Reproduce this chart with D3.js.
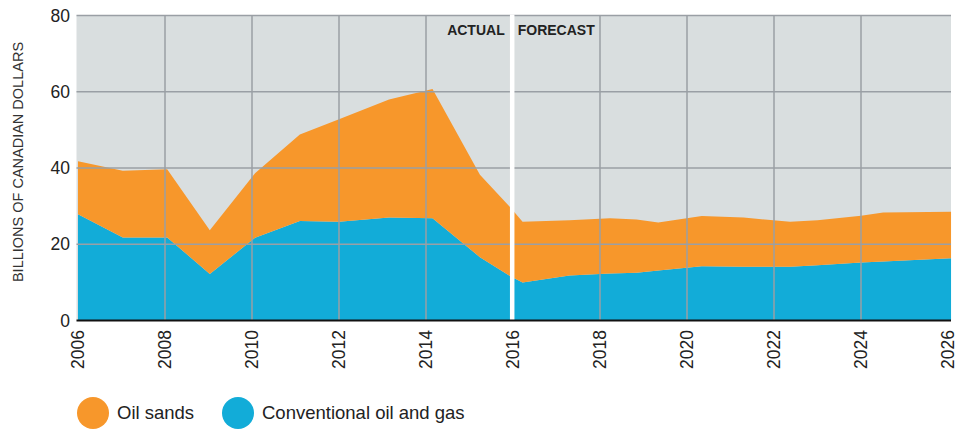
<!DOCTYPE html>
<html>
<head>
<meta charset="utf-8">
<script src="https://cdn.jsdelivr.net/npm/d3@7"></script>
<style>
  body { margin: 0; background: #fff; }
  text { font-family: "Liberation Sans", Arial, Helvetica, sans-serif; }
</style>
</head>
<body>
<div id="chart"></div>
<script>
// values (billions of CAD), x as fractional years
var actualYears = [2006, 2007.03, 2008.05, 2009.03, 2010.07, 2011.1, 2012, 2013.15, 2014.15, 2015.24, 2015.93];
var actualConventional = [27.9, 21.8, 21.8, 12.2, 21.7, 26.1, 25.9, 27.0, 26.8, 16.6, 11.7];
var actualOilSands = [13.9, 17.5, 17.9, 11.5, 16.9, 22.7, 26.9, 31.0, 33.9, 21.6, 18.1];

var forecastYears = [2016.22, 2017.3, 2018.23, 2018.84, 2019.34, 2020.34, 2021.3, 2022.37, 2023.0, 2024.0, 2024.51, 2026.07];
var forecastConventional = [10.0, 11.8, 12.3, 12.5, 13.1, 14.2, 14.1, 14.1, 14.5, 15.2, 15.5, 16.3];
var forecastOilSands = [15.9, 14.5, 14.5, 14.0, 12.6, 13.2, 12.9, 11.8, 11.8, 12.3, 12.8, 12.2];

var yTicks = [0, 20, 40, 60, 80];
var xTicks = [2006, 2008, 2010, 2012, 2014, 2016, 2018, 2020, 2022, 2024, 2026];
var splitYear = 2015.97;

var seriesNames = ["Oil sands", "Conventional oil and gas"];
var colors = {"Oil sands": "#f7972b", "Conventional oil and gas": "#12acd8"};

var width = 960, height = 429;

var svg = d3.select("#chart").append("svg")
    .attr("width", width)
    .attr("height", height);

// scales
var x = d3.scaleLinear().domain([2006, 2026]).range([78, 948]);
var y = d3.scaleLinear().domain([0, 80]).range([320.5, 15.5]);

// plot background
svg.append("rect")
    .attr("x", 76.5)
    .attr("y", y(80))
    .attr("width", 951 - 76.5)
    .attr("height", y(0) - y(80))
    .attr("fill", "#d9dedf");

// one continuous table: actual followed by forecast
var years = actualYears.concat(forecastYears);
var conv = actualConventional.concat(forecastConventional);
var oil = actualOilSands.concat(forecastOilSands);
var rows = years.map(function(yr, i) {
  return {year: yr, conv: conv[i], oil: oil[i]};
});

var layers = d3.stack().keys(["conv", "oil"])(rows);

var area = d3.area()
    .x(function(d) { return x(d.data.year); })
    .y0(function(d) { return y(d[0]); })
    .y1(function(d) { return y(d[1]); });

svg.append("g")
  .selectAll("path")
  .data(layers)
  .enter().append("path")
    .attr("d", area)
    .attr("fill", function(d) { return d.key == "conv" ? colors["Conventional oil and gas"] : colors["Oil sands"]; });

// grid lines on top of the areas
var grid = svg.append("g").attr("stroke", "#9a9fa5").attr("stroke-width", 1.5);
grid.selectAll("line.h")
    .data(yTicks.filter(function(d) { return d > 0; }))
    .enter().append("line")
      .attr("x1", 76.5).attr("x2", 951)
      .attr("y1", function(d) { return y(d); })
      .attr("y2", function(d) { return y(d); });
grid.selectAll("line.v")
    .data(xTicks.filter(function(d) { return d > 2006 && d < 2026; }))
    .enter().append("line")
      .attr("x1", function(d) { return x(d); })
      .attr("x2", function(d) { return x(d); })
      .attr("y1", y(80)).attr("y2", y(0));

// actual / forecast divider
svg.append("line")
    .attr("x1", x(splitYear) + 0.5).attr("x2", x(splitYear) + 0.5)
    .attr("y1", y(80) - 1).attr("y2", y(0))
    .attr("stroke", "#fff")
    .attr("stroke-width", 4.5);

svg.append("text")
    .attr("x", x(splitYear) - 7)
    .attr("y", 35)
    .attr("text-anchor", "end")
    .style("font-size", "14px")
    .style("font-weight", "bold")
    .attr("fill", "#222")
    .text("ACTUAL");

svg.append("text")
    .attr("x", x(splitYear) + 6)
    .attr("y", 35)
    .style("font-size", "14px")
    .style("font-weight", "bold")
    .attr("fill", "#222")
    .text("FORECAST");

// baseline
svg.append("line")
    .attr("x1", 76.5).attr("x2", 951)
    .attr("y1", y(0)).attr("y2", y(0))
    .attr("stroke", "#111")
    .attr("stroke-width", 2);

// y axis labels
svg.append("g")
    .selectAll("text")
    .data(yTicks)
    .enter().append("text")
      .attr("x", 70)
      .attr("y", function(d) { return y(d); })
      .attr("dy", "0.35em")
      .attr("text-anchor", "end")
      .style("font-size", "17.5px")
      .attr("fill", "#222")
      .text(function(d) { return d; });

// x axis labels, rotated
svg.append("g")
    .selectAll("text")
    .data(xTicks)
    .enter().append("text")
      .attr("transform", function(d) { return "translate(" + x(d) + ",330) rotate(-90)"; })
      .attr("dy", "0.35em")
      .attr("text-anchor", "end")
      .style("font-size", "17.5px")
      .attr("fill", "#222")
      .text(function(d) { return d; });

// y axis title
svg.append("text")
    .attr("transform", "translate(18,162) rotate(-90)")
    .attr("dy", "0.35em")
    .attr("text-anchor", "middle")
    .style("font-size", "14.5px")
    .attr("fill", "#333")
    .text("BILLIONS OF CANADIAN DOLLARS");

// legend
var legendX = [93, 238];
var legend = svg.append("g")
    .selectAll("g")
    .data(seriesNames)
    .enter().append("g")
      .attr("transform", function(d, i) { return "translate(" + legendX[i] + ",413)"; });

legend.append("circle")
    .attr("r", 16)
    .attr("fill", function(d) { return colors[d]; });

legend.append("text")
    .attr("x", 24)
    .attr("dy", "0.35em")
    .style("font-size", "18.5px")
    .attr("fill", "#222")
    .text(function(d) { return d; });
</script>
</body>
</html>
